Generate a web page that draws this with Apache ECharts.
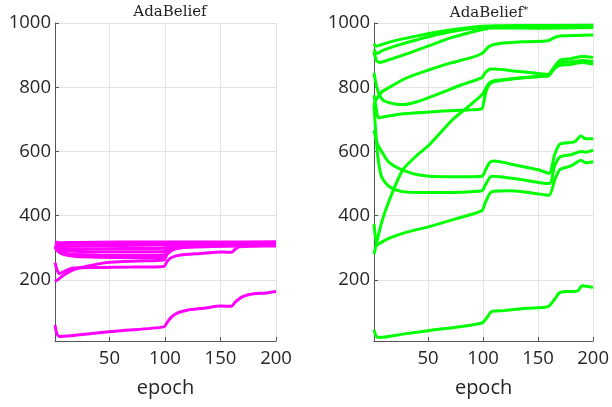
<!DOCTYPE html>
<html><head><meta charset="utf-8">
<script src="https://cdn.jsdelivr.net/npm/echarts@6/dist/echarts.min.js"></script>
<style>html,body{margin:0;padding:0;background:#fff}#c{width:612px;height:407px}</style>
</head><body><div id="c"></div>
<script>
// x tick labels and y tick labels
const xTicks = [50, 100, 150, 200];
const yTicks = [200, 400, 600, 800, 1000];
const titleLeft = 'AdaBelief';
const titleRight = 'AdaBelief';
const xName = 'epoch';

// AdaBelief (magenta) curves: epochs and values
const m1x = [1, 5, 20, 60, 100, 150, 200];
const m1y = [318, 316, 317, 318, 318, 318, 319];
const m2x = [1, 5, 20, 60, 100, 150, 200];
const m2y = [313, 310, 312, 313, 314, 315, 316];
const m3x = [1, 5, 20, 60, 100, 150, 200];
const m3y = [310, 306, 306, 307, 309, 311, 312];
const m4x = [1, 4, 10, 30, 60, 99, 103, 110, 150, 200];
const m4y = [306, 300, 298, 297, 298, 299, 306, 310, 312, 313];
const m5x = [1, 4, 10, 15, 40, 70, 99, 102, 106, 150, 200];
const m5y = [300, 294, 291, 290, 288, 288, 289, 298, 305, 310, 312];
const m6x = [1, 4, 10, 15, 40, 70, 99, 102, 108, 150, 200];
const m6y = [303, 290, 283, 280, 278, 277, 278, 292, 303, 308, 310];
const m7x = [1, 4, 10, 20, 40, 70, 99, 102, 112, 150, 200];
const m7y = [305, 288, 278, 273, 271, 270, 271, 286, 300, 305, 308];
const m8x = [1, 5, 10, 17, 30, 47, 75, 99, 102, 108, 120, 150, 200];
const m8y = [195, 205, 218, 231, 243, 254, 259, 262, 280, 295, 303, 306, 308];
const m9x = [1, 3, 5, 10, 17, 40, 70, 99, 102, 106, 113, 130, 152, 160, 163, 167, 180, 200];
const m9y = [254, 230, 220, 228, 237, 239, 240, 242, 258, 270, 277, 282, 287, 286, 295, 303, 305, 306];
const m10x = [1, 3, 6, 30, 60, 99, 102, 106, 112, 120, 135, 150, 160, 163, 170, 180, 190, 200];
const m10y = [60, 30, 24, 32, 42, 54, 68, 85, 98, 106, 112, 119, 118, 130, 148, 157, 159, 164];

// AdaBelief* (green) curves: epochs and values
const g1x = [1, 3, 8, 20, 40, 60, 80, 100, 130, 200];
const g1y = [935, 928, 933, 945, 960, 973, 983, 990, 992, 993];
const g2x = [1, 4, 8, 20, 40, 60, 80, 100, 130, 200];
const g2y = [918, 905, 913, 928, 948, 965, 978, 986, 988, 990];
const g3x = [1, 3, 6, 15, 30, 50, 70, 90, 100, 110, 150, 200];
const g3y = [910, 885, 877, 886, 903, 928, 953, 972, 980, 985, 984, 986];
const g4x = [1, 3, 8, 15, 30, 50, 70, 90, 99, 102, 106, 115, 140, 159, 165, 172, 200];
const g4y = [745, 762, 785, 800, 828, 853, 875, 893, 905, 915, 928, 936, 942, 945, 955, 960, 963];
const g5x = [1, 3, 6, 10, 20, 27, 40, 60, 80, 99, 102, 106, 110, 130, 150, 159, 165, 170, 180, 190, 200];
const g5y = [845, 808, 775, 758, 748, 746, 755, 780, 807, 830, 845, 856, 857, 850, 843, 840, 865, 884, 889, 896, 893];
const g6x = [1, 3, 5, 10, 30, 60, 90, 99, 101, 103, 106, 110, 130, 150, 159, 165, 170, 180, 190, 200];
const g6y = [775, 735, 705, 708, 718, 725, 730, 733, 760, 790, 810, 817, 827, 834, 836, 862, 876, 879, 883, 880];
const g7x = [1, 3, 8, 15, 27, 40, 51, 72, 85, 97, 100, 103, 106, 110, 130, 150, 159, 165, 170, 180, 190, 200];
const g7y = [280, 310, 380, 449, 542, 588, 620, 698, 735, 770, 780, 800, 814, 820, 828, 833, 835, 858, 868, 871, 877, 872];
const g8x = [1, 4, 9, 15, 27, 42, 66, 99, 102, 106, 110, 130, 150, 160, 165, 170, 183, 189, 193, 200];
const g8y = [666, 625, 594, 565, 542, 527, 521, 523, 540, 566, 570, 557, 543, 532, 590, 623, 630, 648, 640, 640];
const g9x = [1, 3, 5, 8, 15, 27, 51, 99, 102, 108, 130, 160, 165, 170, 180, 189, 193, 200];
const g9y = [745, 640, 570, 520, 490, 475, 472, 478, 495, 523, 515, 500, 555, 583, 590, 600, 598, 604];
const g10x = [1, 4, 8, 15, 30, 51, 75, 99, 102, 108, 126, 150, 160, 165, 170, 180, 189, 193, 200];
const g10y = [374, 309, 318, 330, 348, 366, 390, 416, 440, 475, 478, 468, 464, 510, 544, 555, 573, 565, 568];
const g11x = [1, 3, 6, 30, 50, 75, 99, 104, 108, 120, 140, 159, 165, 170, 186, 190, 200];
const g11y = [45, 25, 21, 33, 42, 53, 66, 85, 102, 105, 112, 117, 140, 161, 166, 182, 177];

const magenta = [[m1x,m1y],[m2x,m2y],[m3x,m3y],[m4x,m4y],[m5x,m5y],[m6x,m6y],[m7x,m7y],[m8x,m8y],[m9x,m9y],[m10x,m10y]];
const green = [[g1x,g1y],[g2x,g2y],[g3x,g3y],[g4x,g4y],[g5x,g5y],[g6x,g6y],[g7x,g7y],[g8x,g8y],[g9x,g9y],[g10x,g10y],[g11x,g11y]];

const font = 'Open Sans';
const serif = 'DejaVu Serif';
const fmt = v => String(v);
function xAxis(i){
  return {type:'value', gridIndex:i, min:1, max:200,
    name:xName, nameLocation:'middle', nameGap:37,
    nameTextStyle:{fontFamily:font, fontSize:20, color:'#262626'},
    axisLine:{show:true, onZero:false, lineStyle:{color:'#555', width:1}},
    axisTick:{show:true, inside:true, length:4, customValues:xTicks, lineStyle:{color:'#555'}},
    axisLabel:{customValues:xTicks, formatter:fmt, fontFamily:font, fontSize:18.5, color:'#262626', margin:8},
    splitLine:{show:true, lineStyle:{color:'#e3e3e3', width:1}}};
}
function yAxis(i){
  return {type:'value', gridIndex:i, min:10, max:1000,
    axisLine:{show:true, onZero:false, lineStyle:{color:'#555', width:1}},
    axisTick:{show:true, inside:true, length:4, customValues:yTicks, lineStyle:{color:'#555'}},
    axisLabel:{customValues:yTicks, formatter:fmt, fontFamily:font, fontSize:18.5, color:'#262626', margin:4},
    splitLine:{show:true, lineStyle:{color:'#e3e3e3', width:1}}};
}
function mk(list, idx, color){
  return list.map(p => ({type:'line', xAxisIndex:idx, yAxisIndex:idx, symbol:'none', smooth:0.25,
    lineStyle:{color:color, width:3}, data:p[0].map((x,k)=>[x,p[1][k]]), z:3}));
}
const chart = echarts.init(document.getElementById('c'), null, {renderer:'canvas'});
chart.setOption({
  animation:false,
  backgroundColor:'#fff',
  title:[
    {text:titleLeft, left:165, top:0, textAlign:'center', textStyle:{fontFamily:serif, fontSize:15, fontWeight:'normal', color:'#222'}},
    {text:'{a|'+titleRight+'}{s|*}', left:484, top:0, textAlign:'center', textStyle:{fontWeight:'normal', rich:{a:{fontFamily:serif, fontSize:15, fontWeight:'normal', color:'#222'}, s:{fontFamily:serif, fontSize:10, fontWeight:'normal', color:'#222', verticalAlign:'top', padding:[0,0,6,0]}}}}
  ],
  grid:[
    {left:55, top:23, width:221, height:318},
    {left:374, top:23, width:221, height:318}
  ],
  xAxis:[xAxis(0), xAxis(1)],
  yAxis:[yAxis(0), yAxis(1)],
  series:[...mk(magenta,0,'#ff00ff'), ...mk(green,1,'#00ff00')]
});
</script></body></html>
